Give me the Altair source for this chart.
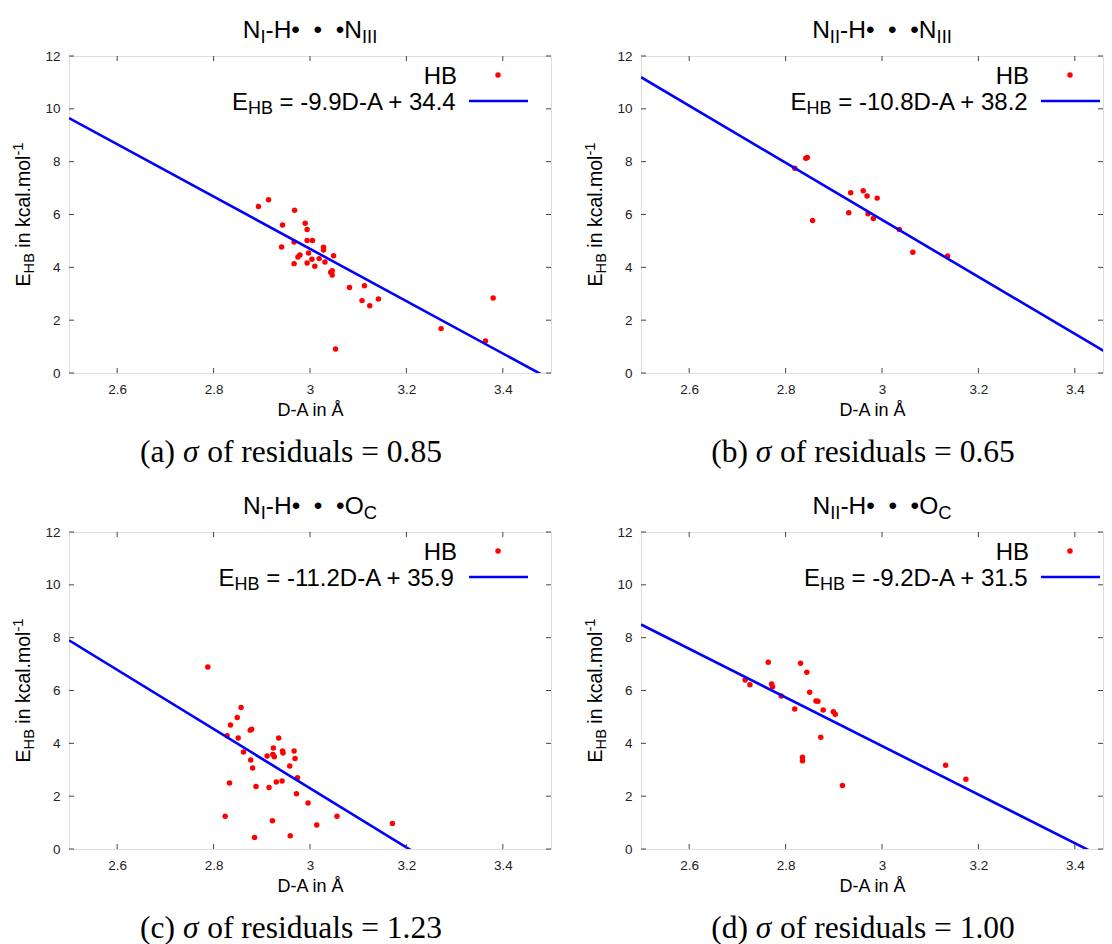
import altair as alt
import pandas as pd

# ---------------- data ----------------
a_x = [2.893, 2.914, 2.968, 2.943, 2.990, 2.994, 2.994, 3.005, 2.967, 2.941, 3.028, 3.028,
       2.997, 3.049, 2.979, 2.975, 3.004, 3.019, 2.994, 2.967, 3.031, 3.010, 3.046, 3.043,
       3.046, 3.082, 3.113, 3.108, 3.124, 3.142, 3.272, 3.364, 3.380, 3.053]
a_y = [6.30, 6.56, 6.16, 5.60, 5.67, 5.43, 5.02, 5.02, 4.96, 4.77, 4.76, 4.66,
       4.54, 4.44, 4.47, 4.39, 4.31, 4.33, 4.16, 4.14, 4.20, 4.04, 3.87, 3.81,
       3.71, 3.24, 3.30, 2.74, 2.55, 2.80, 1.68, 1.21, 2.84, 0.91]

b_x = [2.842, 2.845, 2.819, 2.935, 2.961, 2.969, 2.990, 2.931, 2.971, 2.982, 2.856,
       3.036, 3.064, 3.136]
b_y = [8.13, 8.16, 7.75, 6.82, 6.90, 6.70, 6.62, 6.07, 6.03, 5.85, 5.77,
       5.43, 4.57, 4.43]

c_x = [2.788, 2.857, 2.849, 2.835, 2.876, 2.879, 2.828, 2.851, 2.935, 2.924, 2.943, 2.967,
       2.862, 2.944, 2.911, 2.923, 2.926, 2.969, 2.877, 2.958, 2.881, 2.974, 2.930, 2.942,
       2.833, 2.888, 2.915, 2.972, 2.996, 2.824, 3.056, 3.171, 2.922, 3.014, 2.885, 2.959]
c_y = [6.89, 5.36, 4.98, 4.69, 4.50, 4.53, 4.29, 4.20, 4.20, 3.82, 3.71, 3.71,
       3.67, 3.63, 3.52, 3.58, 3.49, 3.43, 3.37, 3.14, 3.07, 2.70, 2.54, 2.57,
       2.50, 2.37, 2.33, 2.09, 1.74, 1.24, 1.24, 0.97, 1.07, 0.91, 0.44, 0.50]

d_x = [2.764, 2.831, 2.844, 2.716, 2.726, 2.771, 2.773, 2.850, 2.791, 2.863, 2.867,
       2.819, 2.878, 2.899, 2.903, 2.873, 2.835, 2.835, 2.918, 3.132, 3.174]
d_y = [7.07, 7.03, 6.69, 6.40, 6.22, 6.25, 6.14, 5.93, 5.79, 5.60, 5.59,
       5.30, 5.26, 5.20, 5.10, 4.23, 3.47, 3.34, 2.40, 3.17, 2.64]

slopes = [-9.9, -10.8, -11.2, -9.2]
intercepts = [34.4, 38.2, 35.9, 31.5]
eq_texts = ["\u00a0=\u00a0-9.9D-A + 34.4", "\u00a0=\u00a0-10.8D-A + 38.2",
            "\u00a0=\u00a0-11.2D-A + 35.9", "\u00a0=\u00a0-9.2D-A + 31.5"]
donor_sub = ["I", "II", "I", "II"]
acc_main = ["N", "N", "O", "O"]
acc_sub = ["III", "III", "C", "C"]
cap_letters = ["(a)", "(b)", "(c)", "(d)"]
sigmas = ["0.85", "0.65", "1.23", "1.00"]

x_ticks = [2.6, 2.8, 3.0, 3.2, 3.4]
y_ticks = [0, 2, 4, 6, 8, 10, 12]
x_domain = [2.5, 3.5]
y_domain = [0, 12]
legend_label = "HB"
x_title = "D-A in Å"

# ---------------- layout helpers ----------------
W, H = 482, 317
# right-hand panels are cut off by the page edge in the reference
W_RIGHT = 462
SANS = "Liberation Sans"
SERIF = "Liberation Serif"

ARIAL = {' ': 278, '\u00a0': 278, '(': 333, ')': 333, '+': 584, '-': 333, '.': 278, '=': 584,
         'A': 667, 'B': 667, 'C': 722, 'D': 722, 'E': 667, 'H': 722, 'I': 278, 'N': 722,
         'O': 778, 'a': 556, 'c': 500, 'i': 222, 'k': 500, 'l': 222, 'm': 833, 'n': 556,
         'o': 556, '\u2022': 350, 'Å': 667}
for d in "0123456789":
    ARIAL[d] = 556
TIMES = {' ': 250, '\u00a0': 250, '(': 333, ')': 333, 'a': 444, 'b': 500, 'c': 444, 'd': 500,
         'e': 444, 'f': 333, 'i': 278, 'l': 278, 'o': 500, 'r': 333, 's': 389, 'u': 500,
         '=': 564, '.': 250, 'σ': 520}
for d in "0123456789":
    TIMES[d] = 500


def seg_width(text, fs, table):
    return sum(table.get(ch, 556) for ch in text) * fs / 1000.0


def total_width(segs, base, table):
    return sum(seg_width(t, base * s, table) for t, s, _ in segs)


def layout(segs, start, line, base, table, rotated=False):
    rows = []
    pos = start
    for t, s, shift in segs:
        fs = base * s
        w = seg_width(t, fs, table)
        stripped = t.lstrip(" \u00a0")
        lead = seg_width(t[:len(t) - len(stripped)], fs, table)
        shown = stripped.rstrip(" \u00a0")
        if shown:
            if rotated:
                rows.append(dict(px=line + shift, py=pos - lead, t=shown, fs=fs, ang=270))
            else:
                rows.append(dict(px=pos + lead, py=line + shift, t=shown, fs=fs, ang=0))
        pos = pos - w if rotated else pos + w
    return rows


def text_layer(rows, font, italic=False):
    df = pd.DataFrame(rows)
    kw = dict(align="left", baseline="alphabetic", font=font, color="black")
    if italic:
        kw["fontStyle"] = "italic"
    return alt.Chart(df).mark_text(**kw).encode(
        x=alt.X("px:Q", scale=None),
        y=alt.Y("py:Q", scale=None),
        text="t:N",
        size=alt.Size("fs:Q", scale=None),
        angle=alt.Angle("ang:Q", scale=None),
    )


TITLE_FS = 24.5
LEG_FS = 24
YT_FS = 19.5
CAP_FS = 31.5
SUB = 0.75
PT_SIZE = 30


def panel(i, xs, ys, width):
    xdom = [x_domain[0], x_domain[0] + (x_domain[1] - x_domain[0]) * width / W]
    xscale = alt.Scale(domain=xdom, nice=False, zero=False)
    yscale = alt.Scale(domain=y_domain, nice=False, zero=False)
    xaxis = alt.Axis(values=x_ticks, format="~g", title=x_title, ticks=False, domain=False,
                     grid=False, labelFont=SANS, labelFontSize=13.5, labelColor="#222",
                     labelPadding=9, titleFont=SANS, titleFontSize=18,
                     titleFontWeight="normal", titleColor="black", titlePadding=6)
    yaxis = alt.Axis(values=y_ticks, title=None, ticks=False, domain=False, grid=False,
                     labelFont=SANS, labelFontSize=13.5, labelColor="#222", labelPadding=9)

    pts = pd.DataFrame({"x": xs, "y": ys})
    points = alt.Chart(pts).mark_circle(color="#ff0000", size=PT_SIZE, opacity=1).encode(
        x=alt.X("x:Q", scale=xscale, axis=xaxis),
        y=alt.Y("y:Q", scale=yscale, axis=yaxis),
    )

    fit = pd.DataFrame({"x": x_domain,
                        "y": [slopes[i] * v + intercepts[i] for v in x_domain]})
    line = alt.Chart(fit).mark_line(color="#0000ff", strokeWidth=2.6, clip=True).encode(
        x=alt.X("x:Q", scale=xscale), y=alt.Y("y:Q", scale=yscale))

    xt = pd.DataFrame({"x": x_ticks})
    yt = pd.DataFrame({"y": y_ticks})
    tcol = "#444"
    tick_b = alt.Chart(xt).mark_rule(color=tcol, strokeWidth=1).encode(
        x=alt.X("x:Q", scale=xscale), y=alt.value(H), y2=alt.value(H - 5))
    tick_t = alt.Chart(xt).mark_rule(color=tcol, strokeWidth=1).encode(
        x=alt.X("x:Q", scale=xscale), y=alt.value(0), y2=alt.value(5))
    tick_l = alt.Chart(yt).mark_rule(color=tcol, strokeWidth=1).encode(
        y=alt.Y("y:Q", scale=yscale), x=alt.value(0), x2=alt.value(5))
    tick_r = alt.Chart(yt).mark_rule(color=tcol, strokeWidth=1).encode(
        y=alt.Y("y:Q", scale=yscale), x=alt.value(width), x2=alt.value(width - 5))

    # legend (gnuplot style, inside top right of the full-size frame)
    one = pd.DataFrame({"k": [0]})
    leg_dot = alt.Chart(one).mark_circle(color="#ff0000", size=PT_SIZE, opacity=1).encode(
        x=alt.value(W - 53), y=alt.value(19))
    leg_line = alt.Chart(one).mark_rule(color="#0000ff", strokeWidth=2.6).encode(
        x=alt.value(W - 82), x2=alt.value(min(W - 23, width - 1)), y=alt.value(45))

    sans_rows = []
    hb = [(legend_label, 1, 0)]
    sans_rows += layout(hb, W - 94 - total_width(hb, LEG_FS, ARIAL), 27.5, LEG_FS, ARIAL)
    eq = [("E", 1, 0), ("HB", SUB, 4.5), (eq_texts[i], 1, 0)]
    sans_rows += layout(eq, W - 94 - total_width(eq, LEG_FS, ARIAL), 53.5, LEG_FS, ARIAL)
    tt = [("N", 1, 0), (donor_sub[i], SUB, 4.5),
          ("-H\u2022\u00a0\u00a0\u2022\u00a0\u00a0\u2022" + acc_main[i], 1, 0),
          (acc_sub[i], SUB, 4.5)]
    sans_rows += layout(tt, W / 2 - total_width(tt, TITLE_FS, ARIAL) / 2, -18, TITLE_FS, ARIAL)
    yt_segs = [("E", 1, 0), ("HB", SUB, 3.5), ("\u00a0in kcal.mol", 1, 0), ("-1", SUB, -7)]
    sans_rows += layout(yt_segs, H / 2 + total_width(yt_segs, YT_FS, ARIAL) / 2, -39,
                        YT_FS, ARIAL, rotated=True)

    cap = [(cap_letters[i] + "\u00a0", 1, 0), ("σ", 1, 0),
           ("\u00a0of residuals = " + sigmas[i], 1, 0)]
    cap_rows = layout(cap, 222 - total_width(cap, CAP_FS, TIMES) / 2, H + 89, CAP_FS, TIMES)
    cap_reg = [cap_rows[0], cap_rows[2]]
    cap_it = [cap_rows[1]]

    layers = [points, line, tick_b, tick_t, tick_l, tick_r, leg_dot, leg_line,
              text_layer(sans_rows, SANS), text_layer(cap_reg, SERIF),
              text_layer(cap_it, SERIF, italic=True)]
    return alt.layer(*layers).properties(width=width, height=H)


pa = panel(0, a_x, a_y, W)
pb = panel(1, b_x, b_y, W_RIGHT)
pc = panel(2, c_x, c_y, W)
pd_ = panel(3, d_x, d_y, W_RIGHT)

chart = alt.concat(pa, pb, pc, pd_, columns=2, spacing={"row": 159, "column": 90},
                   bounds="flush").properties(
    padding={"left": 2, "top": 9, "right": 0, "bottom": 0}
).configure_view(stroke="#555555", strokeWidth=1.4).configure(background="white")

chart.save("out.html", embed_options={"renderer": "svg", "actions": False})
